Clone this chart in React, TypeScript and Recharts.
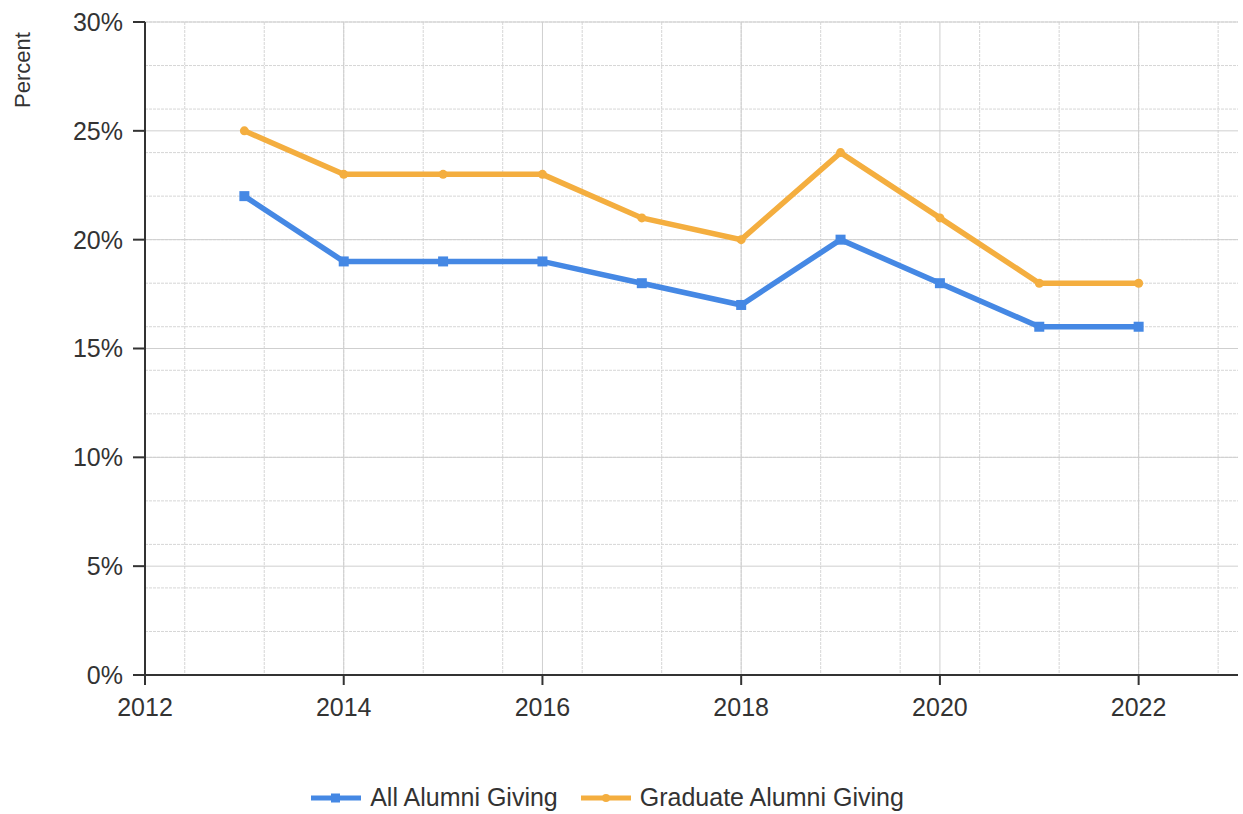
import {
  CartesianGrid,
  Legend,
  Line,
  LineChart,
  XAxis,
  YAxis,
} from 'recharts'

const years = [2013, 2014, 2015, 2016, 2017, 2018, 2019, 2020, 2021, 2022]
const allAlumni = [22, 19, 19, 19, 18, 17, 20, 18, 16, 16]
const gradAlumni = [25, 23, 23, 23, 21, 20, 24, 21, 18, 18]

const xTicks = [2012, 2014, 2016, 2018, 2020, 2022]
const yTicks = [0, 5, 10, 15, 20, 25, 30]
const yMinor = Array.from({ length: 31 }, (_, i) => i)
const xMinor = Array.from({ length: 28 }, (_, i) => 2012 + i * 0.4)

const BLUE = '#4588e4'
const ORANGE = '#f4ae3f'
const FONT = '"Liberation Sans", Arial, sans-serif'

const data = years.map((year, i) => ({
  year,
  all: allAlumni[i],
  grad: gradAlumni[i],
}))

const SquareDot = (props: any) => {
  const { cx, cy } = props
  if (cx == null || cy == null) return null
  return <rect x={cx - 5} y={cy - 5} width={10} height={10} fill={BLUE} />
}

const CircleDot = (props: any) => {
  const { cx, cy } = props
  if (cx == null || cy == null) return null
  return <circle cx={cx} cy={cy} r={4.5} fill={ORANGE} />
}

const LegendContent = () => (
  <div
    style={{
      height: 54,
      display: 'flex',
      justifyContent: 'center',
      alignItems: 'flex-end',
      fontFamily: FONT,
      fontSize: 25,
      color: '#333',
      paddingRight: 2,
      boxSizing: 'border-box',
    }}
  >
    {[
      { name: 'All Alumni Giving', color: BLUE, square: true },
      { name: 'Graduate Alumni Giving', color: ORANGE, square: false },
    ].map((item) => (
      <div
        key={item.name}
        style={{ display: 'flex', alignItems: 'center', marginRight: 22, marginBottom: 2 }}
      >
        <svg width={52} height={14} style={{ marginRight: 8 }}>
          <line x1={1} y1={7} x2={51} y2={7} stroke={item.color} strokeWidth={5} />
          {item.square ? (
            <rect x={21} y={2.5} width={9} height={9} fill={item.color} />
          ) : (
            <circle cx={26} cy={7} r={4} fill={item.color} />
          )}
        </svg>
        <span>{item.name}</span>
      </div>
    ))}
  </div>
)

const PercentLabel = (props: any) => {
  const { viewBox } = props
  const x = viewBox.x + 30
  const y = viewBox.y + 48
  return (
    <text
      x={x}
      y={y}
      transform={`rotate(-90, ${x}, ${y})`}
      textAnchor="middle"
      fontFamily={FONT}
      fontSize={22}
      fill="#333"
    >
      Percent
    </text>
  )
}

export default function App() {
  return (
    <div style={{ position: 'absolute', left: 0, top: 0, background: '#fff' }}>
      <LineChart
        width={1243}
        height={814}
        data={data}
        margin={{ top: 22, right: 5, left: 0, bottom: 0 }}
      >
        <CartesianGrid
          horizontalValues={yMinor}
          verticalValues={xMinor}
          stroke="#d6d6d6"
          strokeDasharray="3 1"
        />
        <CartesianGrid
          horizontalValues={yTicks}
          verticalValues={xTicks}
          stroke="#cfcfcf"
        />
        <XAxis
          dataKey="year"
          type="number"
          domain={[2012, 2023]}
          ticks={xTicks}
          height={85}
          stroke="#333"
          strokeWidth={2}
          tickSize={10}
          tickMargin={13}
          tick={{ fill: '#333', fontSize: 25, fontFamily: FONT }}
        />
        <YAxis
          type="number"
          domain={[0, 30]}
          ticks={yTicks}
          width={145}
          stroke="#333"
          strokeWidth={2}
          tickSize={12}
          tickMargin={10}
          tickFormatter={(v: number) => `${v}%`}
          tick={{ fill: '#333', fontSize: 25, fontFamily: FONT }}
          label={<PercentLabel />}
        />
        <Legend verticalAlign="bottom" content={<LegendContent />} />
        <Line
          dataKey="all"
          name="All Alumni Giving"
          stroke={BLUE}
          strokeWidth={5.5}
          dot={<SquareDot />}
          activeDot={false}
          isAnimationActive={false}
        />
        <Line
          dataKey="grad"
          name="Graduate Alumni Giving"
          stroke={ORANGE}
          strokeWidth={5.5}
          dot={<CircleDot />}
          activeDot={false}
          isAnimationActive={false}
        />
      </LineChart>
    </div>
  )
}
